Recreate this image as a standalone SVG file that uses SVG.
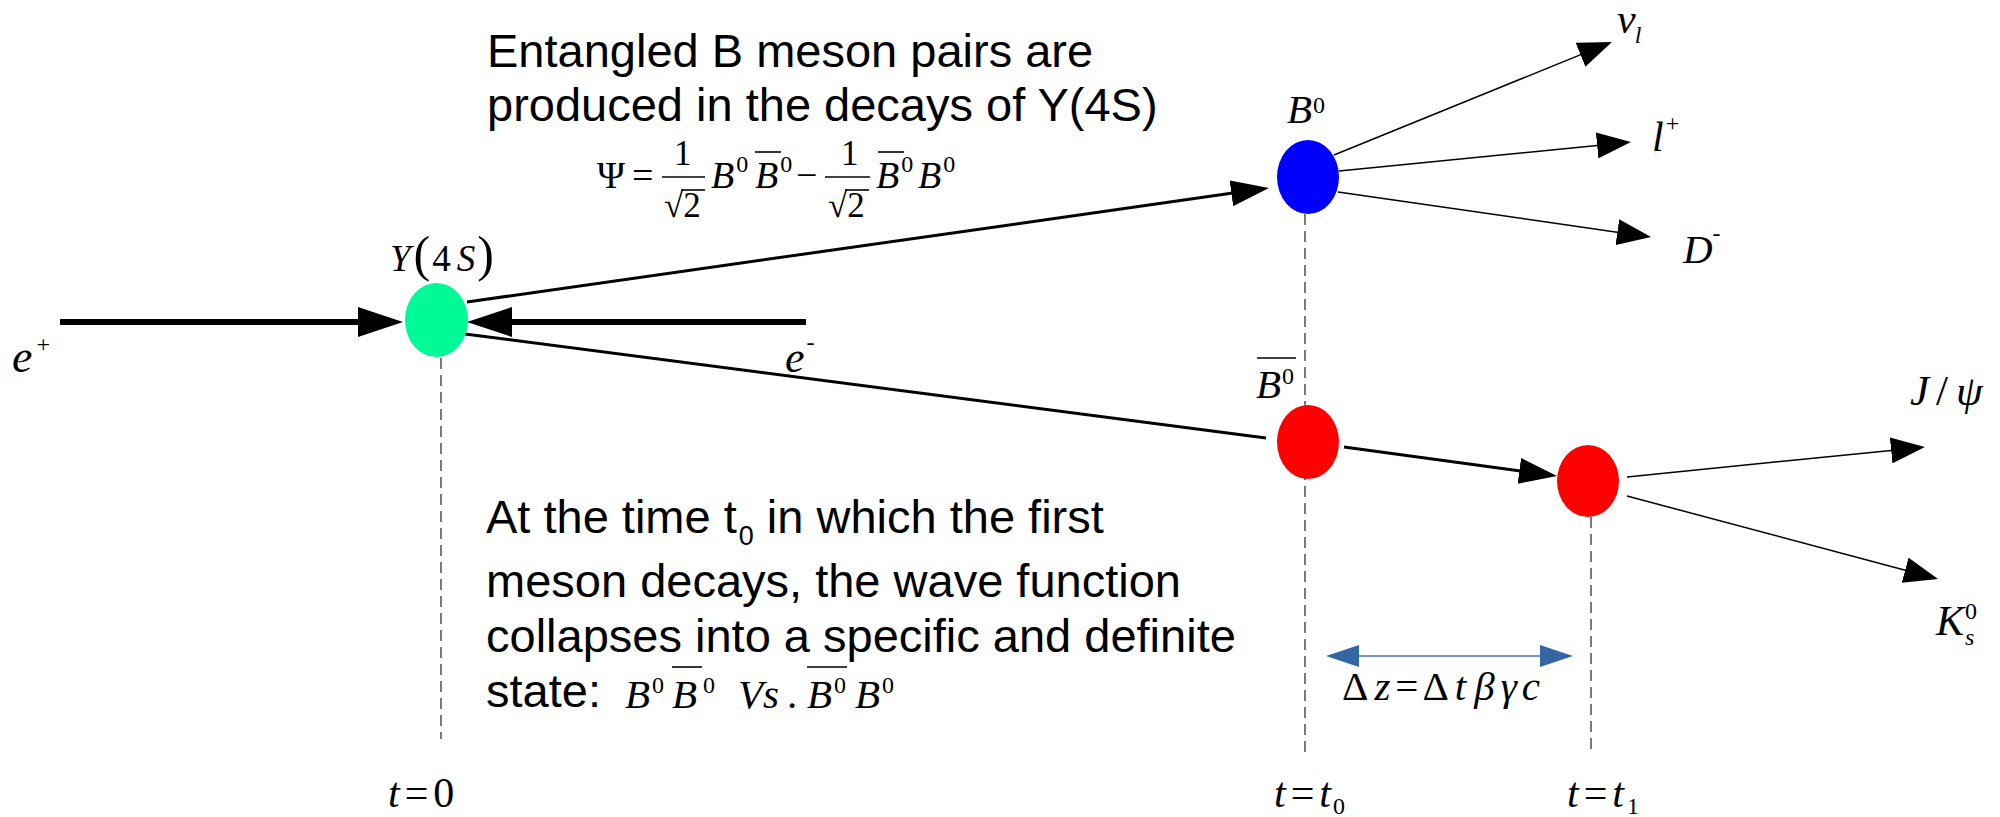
<svg xmlns="http://www.w3.org/2000/svg" width="2000" height="817" viewBox="0 0 2000 817">
<style>
.t{font-family:"Liberation Sans",Arial,sans-serif;font-size:47px;fill:#000}
.m{font-family:"Liberation Serif","Times New Roman",serif;font-style:italic;font-size:41px;fill:#000}
.f{font-size:38px}
.n{font-size:35px}
.u{font-style:normal}
.s{font-size:24px;font-style:normal}
.si{font-size:24px}
.p{font-size:50px;font-style:normal}
.thick{stroke:#000;stroke-width:6;fill:none}
.mid{stroke:#000;stroke-width:3;fill:none}
.thin{stroke:#000;stroke-width:1.5;fill:none}
.dash{stroke:#222;stroke-width:1.2;stroke-dasharray:11 6;fill:none}
.bar{stroke:#000;stroke-width:1.6}
</style>
<defs>
<marker id="hBig" markerUnits="userSpaceOnUse" viewBox="0 0 45 30" markerWidth="45" markerHeight="30" refX="5" refY="15" orient="auto"><path d="M0,0 L45,15 L0,30 z" fill="#000"/></marker>
<marker id="hMid" markerUnits="userSpaceOnUse" viewBox="0 0 38 26" markerWidth="38" markerHeight="26" refX="5" refY="13" orient="auto"><path d="M0,0 L38,13 L0,26 z" fill="#000"/></marker>
<marker id="hThin" markerUnits="userSpaceOnUse" viewBox="0 0 34 26" markerWidth="34" markerHeight="26" refX="5" refY="13" orient="auto"><path d="M0,0 L34,13 L0,26 z" fill="#000"/></marker>
<marker id="hBlue" markerUnits="userSpaceOnUse" viewBox="0 0 33 22" markerWidth="33" markerHeight="22" refX="5" refY="11" orient="auto-start-reverse"><path d="M0,0 L33,11 L0,22 z" fill="#3465a4"/></marker>
</defs>
<rect width="2000" height="817" fill="#fff"/>

<g id="connectors">
<line class="thick" x1="60" y1="322" x2="363" y2="322" marker-end="url(#hBig)"/>
<line class="thick" x1="806" y1="322" x2="507" y2="322" marker-end="url(#hBig)"/>
<line class="mid" x1="467" y1="302" x2="1236.3" y2="192.6" marker-end="url(#hMid)"/>
<line class="mid" x1="465" y1="334" x2="1266" y2="438"/>
<line class="mid" x1="1344" y1="447" x2="1524.3" y2="471.5" marker-end="url(#hMid)"/>
<line class="thin" x1="1334" y1="155" x2="1585.1" y2="52.9" marker-end="url(#hThin)"/>
<line class="thin" x1="1339" y1="171" x2="1602.1" y2="144.9" marker-end="url(#hThin)"/>
<line class="thin" x1="1338" y1="192" x2="1622.3" y2="232.9" marker-end="url(#hThin)"/>
<line class="thin" x1="1627" y1="477" x2="1896.1" y2="449.9" marker-end="url(#hThin)"/>
<line class="thin" x1="1627" y1="496" x2="1910" y2="571.5" marker-end="url(#hThin)"/>
<line class="dash" x1="441" y1="358" x2="441" y2="739"/>
<line class="dash" x1="1305" y1="214" x2="1305" y2="752"/>
<line class="dash" x1="1591" y1="517" x2="1591" y2="749"/>
<line x1="1354" y1="656" x2="1545" y2="656" stroke="#4a74b4" stroke-width="1.6" marker-start="url(#hBlue)" marker-end="url(#hBlue)"/>
</g>

<g id="upsilon">
<ellipse cx="436.5" cy="320" rx="31.5" ry="37" fill="#00fa96"/>
<text class="m" style="font-size:37px" x="390" y="271">Y<tspan class="p" dx="3">(</tspan><tspan class="u" dx="2">4</tspan><tspan dx="6">S</tspan><tspan class="p" dx="2">)</tspan></text>
</g>

<g id="b0">
<ellipse cx="1308" cy="177" rx="31" ry="37" fill="#0000ff"/>
<text class="m" x="1287" y="123">B<tspan class="s" dx="1" dy="-10">0</tspan></text>
</g>

<g id="b0bar">
<ellipse cx="1308" cy="442" rx="31" ry="37" fill="#ff0000"/>
<text class="m" x="1256" y="398">B<tspan class="s" dx="1" dy="-14">0</tspan></text>
<line class="bar" x1="1257" y1="358" x2="1296" y2="358"/>
</g>

<g id="b0bar-decay">
<ellipse cx="1588" cy="481" rx="31" ry="36" fill="#ff0000"/>
</g>

<g id="e-plus"><text class="m" x="12" y="372" style="font-size:46px">e<tspan class="s" dx="4" dy="-20">+</tspan></text></g>
<g id="e-minus"><text class="m" x="785" y="372" style="font-size:44px">e<tspan class="s" dx="2" dy="-22">-</tspan></text></g>

<g id="nu"><text class="m" x="1617" y="33" style="font-size:42px">ν<tspan class="si" dx="-1" dy="10">l</tspan></text></g>
<g id="lepton"><text class="m" x="1652" y="151" style="font-size:42px">l<tspan class="s" dx="2" dy="-20">+</tspan></text></g>
<g id="dminus"><text class="m" x="1683" y="263">D<tspan class="s" dy="-22">-</tspan></text></g>
<g id="jpsi"><text class="m" x="1910" y="405" style="font-size:43px">J<tspan class="u" dx="7">/</tspan><tspan dx="8">ψ</tspan></text></g>
<g id="kshort"><text class="m" x="1936" y="635" style="font-size:42px">K<tspan class="s" dx="1" dy="-16">0</tspan><tspan class="si" dx="-12" dy="26">s</tspan></text></g>

<g id="deltaz"><text class="m" x="1342" y="700"><tspan class="u">Δ</tspan><tspan dx="6">z</tspan><tspan class="u" dx="5">=</tspan><tspan class="u" dx="4">Δ</tspan><tspan dx="6">t</tspan><tspan dx="8">β</tspan><tspan dx="6">γ</tspan><tspan dx="5">c</tspan></text></g>

<g id="t0"><text class="m" x="388" y="807" style="font-size:42px">t<tspan class="u" dx="5">=</tspan><tspan class="u" dx="5">0</tspan></text></g>
<g id="tt0"><text class="m" x="1274" y="807" style="font-size:42px">t<tspan class="u" dx="5">=</tspan><tspan dx="5">t</tspan><tspan class="s" dx="2" dy="7">0</tspan></text></g>
<g id="tt1"><text class="m" x="1567" y="807" style="font-size:42px">t<tspan class="u" dx="5">=</tspan><tspan dx="5">t</tspan><tspan class="s" dx="3" dy="7">1</tspan></text></g>

<g id="title">
<text class="t" x="487" y="67">Entangled B meson pairs are</text>
<text class="t" x="487" y="121">produced in the decays of Y(4S)</text>
</g>

<g id="formula">
<text class="m f u" x="597" y="188">Ψ</text>
<text class="m f u" x="632" y="188">=</text>
<text class="m n u" x="674" y="165">1</text>
<line class="bar" x1="662" y1="177" x2="705" y2="177"/>
<text class="m n u" x="664" y="217">√2</text>
<line class="bar" x1="681" y1="190" x2="705" y2="190"/>
<text class="m f" x="711" y="188">B<tspan class="s" dx="2" dy="-16">0</tspan></text>
<text class="m f" x="755" y="188">B<tspan class="s" dx="2" dy="-16">0</tspan></text>
<line class="bar" x1="755" y1="152" x2="781" y2="152"/>
<text class="m f u" x="796" y="188">−</text>
<text class="m n u" x="841" y="165">1</text>
<line class="bar" x1="825" y1="177" x2="870" y2="177"/>
<text class="m n u" x="828" y="217">√2</text>
<line class="bar" x1="845" y1="190" x2="869" y2="190"/>
<text class="m f" x="876" y="188">B<tspan class="s" dx="2" dy="-16">0</tspan></text>
<line class="bar" x1="878" y1="152" x2="904" y2="152"/>
<text class="m f" x="918" y="188">B<tspan class="s" dx="2" dy="-16">0</tspan></text>
</g>

<g id="collapse">
<text class="t" x="486" y="533">At the time t<tspan style="font-size:27px" dx="2" dy="12">0</tspan><tspan dy="-12"> in which the first</tspan></text>
<text class="t" x="486" y="597">meson decays, the wave function</text>
<text class="t" x="486" y="652">collapses into a specific and definite</text>
<text class="t" x="486" y="707">state:</text>
<text class="m" x="625" y="708">B<tspan class="s" dx="2" dy="-15">0</tspan></text>
<text class="m" x="672" y="708">B<tspan class="s" dx="6" dy="-15">0</tspan></text>
<line class="bar" x1="672" y1="667" x2="702" y2="667"/>
<text class="m" x="738" y="708">Vs<tspan class="u" dx="8">.</tspan></text>
<text class="m" x="807" y="708">B<tspan class="s" dx="2" dy="-15">0</tspan></text>
<line class="bar" x1="807" y1="667" x2="847" y2="667"/>
<text class="m" x="855" y="708">B<tspan class="s" dx="2" dy="-15">0</tspan></text>
</g>
</svg>
